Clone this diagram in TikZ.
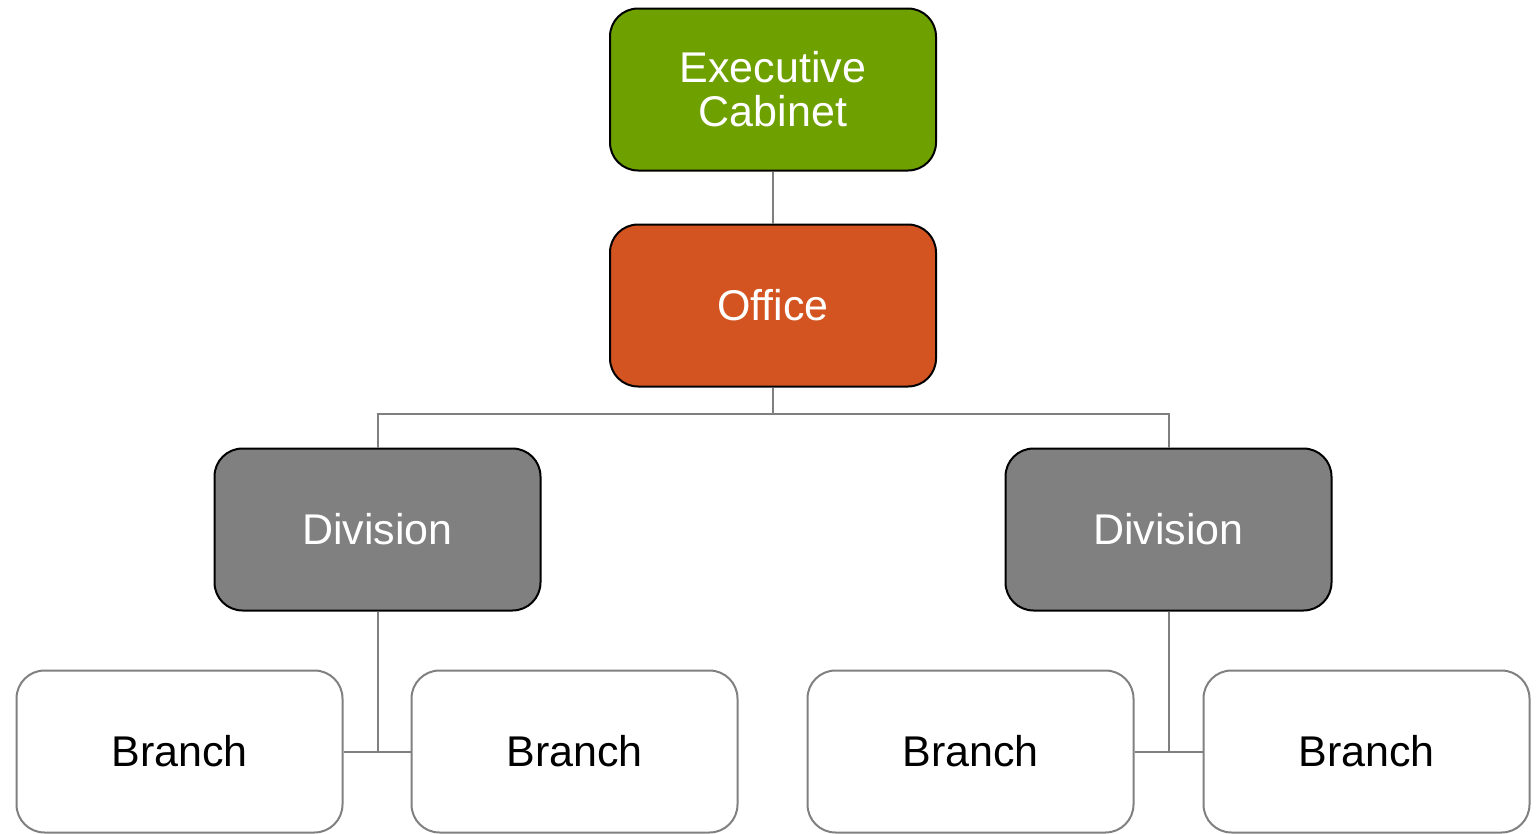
\documentclass[tikz,border=0pt]{standalone}
\usepackage{fontspec}
\setmainfont{Liberation Sans}
\definecolor{execgreen}{HTML}{6EA100}
\definecolor{officeorange}{HTML}{D35420}
\definecolor{divgray}{HTML}{808080}
\definecolor{linegray}{HTML}{7F7F7F}
\begin{document}
\begin{tikzpicture}[x=1pt,y=-1pt,
  box/.style={rounded corners=28pt, minimum width=326pt, minimum height=162pt,
    inner sep=0pt, align=center, line width=2pt,
    font=\fontsize{43}{44}\selectfont},
  topbox/.style={box, draw=black, text=white},
  branchbox/.style={box, draw=divgray, fill=white, text=black},
  conn/.style={draw=linegray, line width=2pt}]
\useasboundingbox (0,0) rectangle (1540,833);
\node[topbox, fill=execgreen] (exec) at (773,89.5) {Executive\\Cabinet};
\node[topbox, fill=officeorange] (office) at (773,305.5) {Office};
\node[topbox, fill=divgray] (divL) at (377.5,529.5) {Division};
\node[topbox, fill=divgray] (divR) at (1168.5,529.5) {Division};
\node[branchbox] (b1) at (179.5,751.5) {Branch};
\node[branchbox] (b2) at (574.5,751.5) {Branch};
\node[branchbox] (b3) at (970.5,751.5) {Branch};
\node[branchbox] (b4) at (1366.5,751.5) {Branch};
\coordinate (split) at (773,414);
\coordinate (jL) at (377.5,751.5);
\coordinate (jR) at (1168.5,751.5);
\draw[conn] (exec.south) -- (office.north);
\draw[conn] (office.south) -- (split);
\draw[conn] (split) -| (divL.north);
\draw[conn] (split) -| (divR.north);
\draw[conn] (divL.south) -- (jL);
\draw[conn] (divR.south) -- (jR);
\draw[conn] (b1.east) -- (b2.west);
\draw[conn] (b3.east) -- (b4.west);
\end{tikzpicture}
\end{document}
